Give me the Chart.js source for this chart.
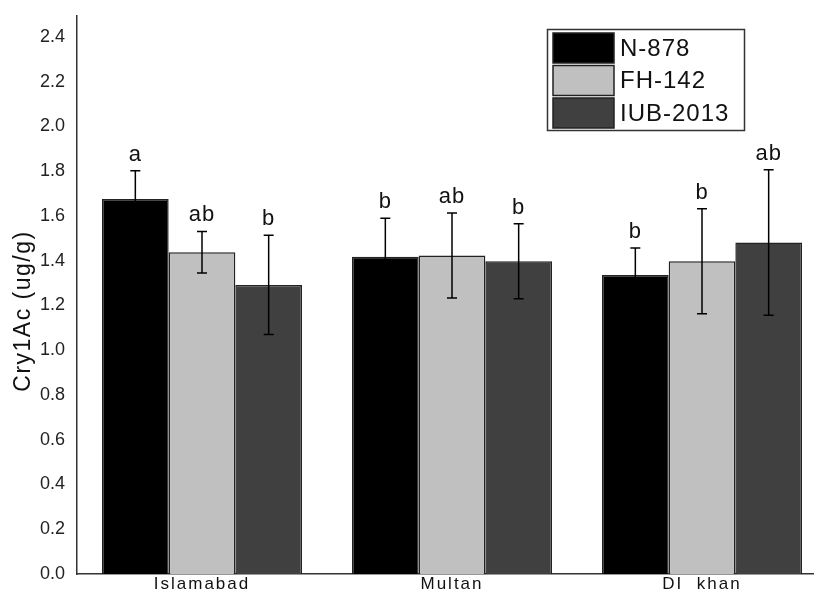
<!DOCTYPE html>
<html>
<head>
<meta charset="utf-8">
<script src="https://cdn.jsdelivr.net/npm/chart.js@4"></script>
<style>
  html, body { margin: 0; padding: 0; background: #fff; overflow: hidden; }
  #chart { display: block; }
</style>
</head>
<body>
<canvas id="chart" width="827" height="591"></canvas>
<script>
const categories = ['Islamabad', 'Multan', 'DI  khan'];
const seriesNames = ['N-878', 'FH-142', 'IUB-2013'];

const n878 = [1.676, 1.418, 1.336];
const fh142 = [1.438, 1.424, 1.398];
const iub2013 = [1.292, 1.398, 1.482];

const n878Err = [0.126, 0.172, 0.121];
const fh142Err = [0.093, 0.190, 0.235];
const iub2013Err = [0.222, 0.168, 0.325];

const n878Sig = ['a', 'b', 'b'];
const fh142Sig = ['ab', 'ab', 'b'];
const iub2013Sig = ['b', 'b', 'ab'];

const yTicks = [0, 0.2, 0.4, 0.6, 0.8, 1.0, 1.2, 1.4, 1.6, 1.8, 2.0, 2.2, 2.4];

const colors = ['#000000', '#c0c0c0', '#404040'];
const errs = [n878Err, fh142Err, iub2013Err];
const sigs = [n878Sig, fh142Sig, iub2013Sig];

// error bars, letters, legend, axis title, category labels
const extras = {
  id: 'extras',
  afterDatasetsDraw(chart) {
    const ctx = chart.ctx;
    const y = chart.scales.y;
    ctx.save();
    chart.data.datasets.forEach((ds, i) => {
      const meta = chart.getDatasetMeta(i);
      meta.data.forEach((bar, j) => {
        const v = ds.data[j];
        const e = errs[i][j];
        const top = y.getPixelForValue(v + e);
        const bot = y.getPixelForValue(v - e);
        ctx.strokeStyle = '#000';
        ctx.lineWidth = 1.5;
        ctx.beginPath();
        ctx.moveTo(bar.x, top);
        ctx.lineTo(bar.x, bot);
        ctx.moveTo(bar.x - 5, top);
        ctx.lineTo(bar.x + 5, top);
        ctx.moveTo(bar.x - 5, bot);
        ctx.lineTo(bar.x + 5, bot);
        ctx.stroke();

        ctx.fillStyle = '#111';
        ctx.font = '22px Arial, "Liberation Sans"';
        ctx.letterSpacing = '1px';
        ctx.textAlign = 'center';
        ctx.textBaseline = 'alphabetic';
        ctx.fillText(sigs[i][j], bar.x, top - 10);
      });
    });

    // category labels
    const x = chart.scales.x;
    ctx.font = '17px Arial, "Liberation Sans"';
    ctx.letterSpacing = '2px';
    ctx.fillStyle = '#111';
    ctx.textAlign = 'center';
    ctx.textBaseline = 'alphabetic';
    categories.forEach((c, j) => {
      ctx.fillText(c, x.getPixelForValue(j), 589);
    });

    // y axis title
    ctx.save();
    ctx.translate(24, 311);
    ctx.rotate(-Math.PI / 2);
    ctx.font = '23px Arial, "Liberation Sans"';
    ctx.letterSpacing = '1.5px';
    ctx.textBaseline = 'middle';
    ctx.fillText('Cry1Ac (ug/g)', 0, 0);
    ctx.restore();

    // legend
    ctx.lineWidth = 1.5;
    ctx.strokeStyle = '#333';
    ctx.fillStyle = '#fff';
    ctx.fillRect(547.5, 29.5, 197, 101);
    ctx.strokeRect(547.5, 29.5, 197, 101);
    ctx.font = '24px Arial, "Liberation Sans"';
    ctx.letterSpacing = '1px';
    ctx.textAlign = 'left';
    ctx.textBaseline = 'middle';
    chart.data.datasets.forEach((ds, i) => {
      const ry = 33 + i * 32.5;
      ctx.fillStyle = ds.backgroundColor;
      ctx.fillRect(553, ry, 61, 30);
      ctx.strokeStyle = '#222';
      ctx.strokeRect(553, ry, 61, 30);
      ctx.fillStyle = '#111';
      ctx.fillText(ds.label, 620, ry + 16);
    });
    ctx.restore();
  }
};

new Chart(document.getElementById('chart'), {
  type: 'bar',
  data: {
    labels: categories,
    datasets: [
      { label: seriesNames[0], data: n878, backgroundColor: colors[0] },
      { label: seriesNames[1], data: fh142, backgroundColor: colors[1] },
      { label: seriesNames[2], data: iub2013, backgroundColor: colors[2] }
    ]
  },
  options: {
    responsive: false,
    animation: false,
    layout: { padding: { top: 16, left: 0, right: 0, bottom: 0 } },
    datasets: {
      bar: {
        categoryPercentage: 0.8,
        barPercentage: 1.0,
        borderColor: '#222',
        borderWidth: 1.5
      }
    },
    plugins: {
      legend: { display: false },
      tooltip: { enabled: false }
    },
    scales: {
      x: {
        offset: true,
        grid: { display: false },
        border: { color: '#333', width: 1.5 },
        ticks: { display: false },
        afterFit(scale) { scale.height = 17; }
      },
      y: {
        min: 0,
        max: 2.494,
        grid: { display: false },
        border: { color: '#333', width: 1.5 },
        ticks: {
          stepSize: 0.2,
          color: '#222',
          padding: 4,
          font: { family: 'Arial, "Liberation Sans"', size: 18 },
          callback: v => v.toFixed(1)
        },
        afterBuildTicks(scale) {
          scale.ticks = yTicks.map(v => ({ value: v }));
        },
        afterFit(scale) { scale.width = 77; }
      }
    }
  },
  plugins: [extras]
});
</script>
</body>
</html>
